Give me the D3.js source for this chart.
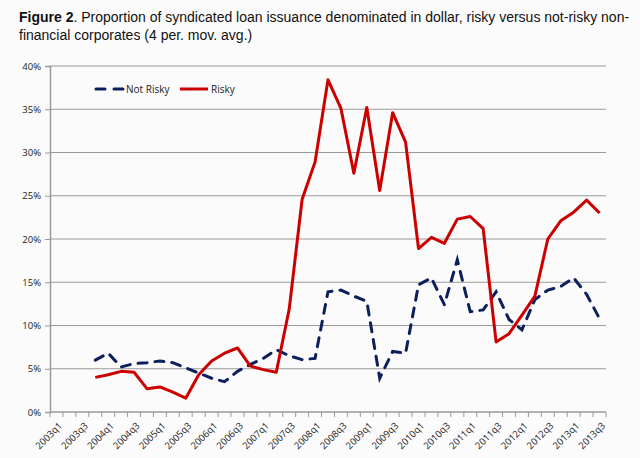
<!DOCTYPE html>
<html>
<head>
<meta charset="utf-8">
<script src="https://cdn.jsdelivr.net/npm/d3@7.9.0/dist/d3.min.js"></script>
<style>
  html, body { margin: 0; padding: 0; background: #fbfbfb; }
  svg { display: block; }
  .title { font-family: 'Liberation Sans', Arial, sans-serif; font-size: 14px; fill: #111; }
  .tick text { font-family: 'Open Sans', 'Liberation Sans', sans-serif; font-size: 9.5px; fill: #222; }
  .legend text { font-family: 'Open Sans', 'Liberation Sans', sans-serif; font-size: 10px; fill: #222; }
</style>
</head>
<body>
<svg id="chart" width="640" height="458"></svg>
<script>
// Quarters 2003q1 .. 2013q3
const quarters = [];
for (let y = 2003; y <= 2013; y++) {
  for (let q = 1; q <= 4; q++) {
    if (y === 2013 && q > 3) break;
    quarters.push(`${y}q${q}`);
  }
}

// Values in percent, null = no data
const notRisky = [
  null, null, null, 6.0, 6.8, 5.2, 5.6, 5.7, 5.9, 5.7, 5.1, 4.5,
  3.9, 3.5, 4.7, 5.5, 6.2, 7.2, 6.5, 6.05, 6.2, 13.9, 14.1, 13.4,
  12.8, 3.9, 7.0, 6.8, 14.7, 15.5, 12.4, 17.6, 11.6, 11.8, 13.9, 10.7,
  9.5, 13.0, 14.1, 14.5, 15.5, 13.6, 10.8,
];
const risky = [
  null, null, null, 4.0, 4.3, 4.7, 4.6, 2.7, 2.9, 2.3, 1.6, 4.3,
  5.9, 6.8, 7.4, 5.3, 4.9, 4.6, 11.9, 24.6, 28.9, 38.4, 35.1, 27.6,
  35.2, 25.6, 34.6, 31.2, 18.9, 20.2, 19.5, 22.3, 22.6, 21.2, 8.1, 9.05,
  11.2, 13.4, 20.0, 22.1, 23.1, 24.5, 23.0,
];

const yTicks = [0, 5, 10, 15, 20, 25, 30, 35, 40];

const svg = d3.select('#chart');
const margin = { left: 50, right: 34, top: 66, bottom: 46 };
const width = 640 - margin.left - margin.right;
const height = 458 - margin.top - margin.bottom;

// Title
const title = svg.append('text').attr('class', 'title').attr('x', 19).attr('y', 22);
title.append('tspan').attr('font-weight', 'bold').text('Figure 2');
title.append('tspan').text('. Proportion of syndicated loan issuance denominated in dollar, risky versus not-risky non-');
svg.append('text').attr('class', 'title').attr('x', 19).attr('y', 40)
  .text('financial corporates (4 per. mov. avg.)');

const g = svg.append('g').attr('transform', `translate(${margin.left},${margin.top})`);

const x = d3.scaleBand().domain(quarters).range([0, width]);
const y = d3.scaleLinear().domain([0, 40]).range([height, 0]);

// Gridlines
g.append('g')
  .selectAll('line')
  .data(yTicks.slice(1))
  .join('line')
  .attr('x1', 0)
  .attr('x2', width)
  .attr('y1', (d) => y(d))
  .attr('y2', (d) => y(d))
  .attr('stroke', '#9a9a9a')
  .attr('stroke-width', 1);

// Y axis
const yAxis = g.append('g')
  .call(d3.axisLeft(y).tickValues(yTicks).tickFormat((d) => d + '%').tickSize(5).tickPadding(4));
yAxis.select('.domain').attr('stroke', '#9a9a9a').attr('stroke-width', 1.5);
yAxis.selectAll('.tick line').attr('stroke', '#9a9a9a');

// X axis: ticks between categories, labels every other quarter
const xAxis = g.append('g').attr('transform', `translate(0,${height})`);
xAxis.append('line')
  .attr('x1', 0).attr('x2', width)
  .attr('stroke', '#9a9a9a').attr('stroke-width', 1.5);
xAxis.selectAll('line.qtick')
  .data(quarters.concat(['end']))
  .join('line')
  .attr('class', 'qtick')
  .attr('x1', (d, i) => i * x.step())
  .attr('x2', (d, i) => i * x.step())
  .attr('y1', 0)
  .attr('y2', 5)
  .attr('stroke', '#9a9a9a');
xAxis.selectAll('g.tick')
  .data(quarters.filter((d, i) => i % 2 === 0))
  .join('g')
  .attr('class', 'tick')
  .attr('transform', (d) => `translate(${x(d) + x.bandwidth() / 2 + 4},12) rotate(-45)`)
  .append('text')
  .attr('text-anchor', 'end')
  .attr('dy', '0.35em')
  .text((d) => d);

const cx = (i) => x(quarters[i]) + x.bandwidth() / 2;

const line = d3.line()
  .defined((d) => d != null)
  .x((d, i) => cx(i))
  .y((d) => y(d));

g.append('path')
  .datum(notRisky)
  .attr('d', line)
  .attr('fill', 'none')
  .attr('stroke', '#0d1f5c')
  .attr('stroke-width', 3)
  .attr('stroke-dasharray', '9,8')
  .attr('stroke-linecap', 'round');

g.append('path')
  .datum(risky)
  .attr('d', line)
  .attr('fill', 'none')
  .attr('stroke', '#cc0000')
  .attr('stroke-width', 3)
  .attr('stroke-linejoin', 'round');

// Legend
const legend = svg.append('g').attr('class', 'legend').attr('transform', 'translate(0,89)');
legend.append('line')
  .attr('x1', 96).attr('x2', 123).attr('y1', 0).attr('y2', 0)
  .attr('stroke', '#0d1f5c').attr('stroke-width', 3)
  .attr('stroke-dasharray', '9,9').attr('stroke-linecap', 'round');
legend.append('text').attr('x', 126).attr('y', 0).attr('dy', '0.35em').text('Not Risky');
legend.append('line')
  .attr('x1', 180).attr('x2', 208).attr('y1', 0).attr('y2', 0)
  .attr('stroke', '#cc0000').attr('stroke-width', 3);
legend.append('text').attr('x', 211).attr('y', 0).attr('dy', '0.35em').text('Risky');
</script>
</body>
</html>
